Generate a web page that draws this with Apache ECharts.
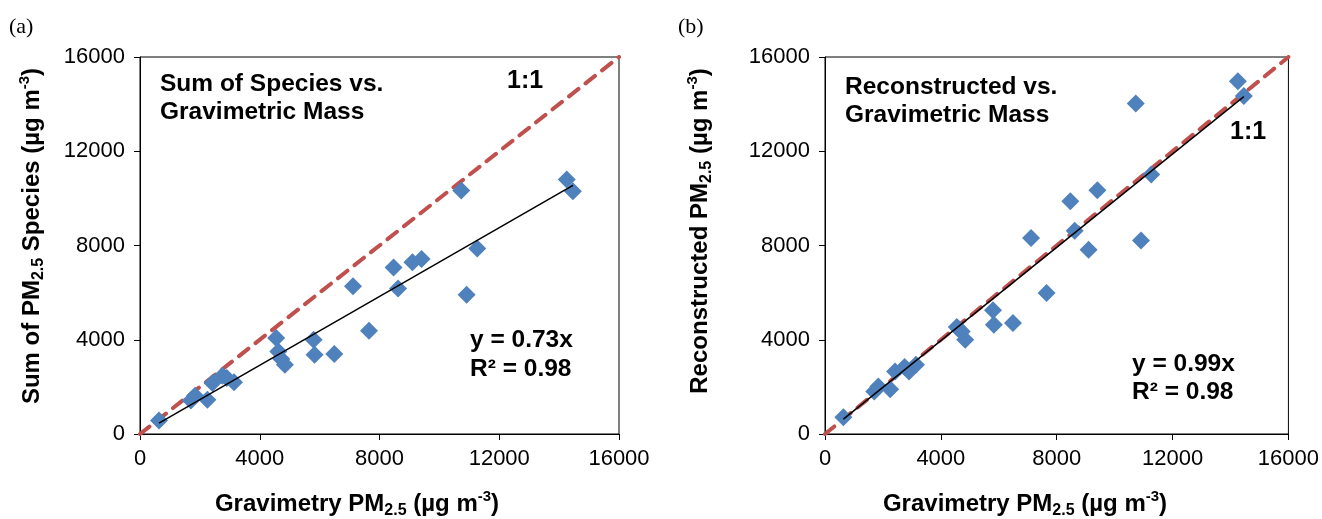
<!DOCTYPE html>
<html>
<head>
<meta charset="utf-8">
<title>PM2.5 mass closure</title>
<script src="https://cdn.jsdelivr.net/npm/echarts@6/dist/echarts.min.js"></script>
<style>
  html, body { margin: 0; padding: 0; background: #fff; }
  #chart { width: 1322px; height: 519px; }
</style>
</head>
<body>
<div id="chart"></div>
<script>
// Gravimetric PM2.5 mass of each filter sample (µg m-3)
const gravimetric = [635, 1700, 1840, 2250, 2420, 2750, 2900, 3140, 4550, 4620, 4720, 4840,
  5800, 5830, 6490, 7115, 7650, 8470, 8620, 9100, 9405, 10730, 10910, 11265, 14255, 14460];
// Sum of the measured PM2.5 species for the same samples
const sumSpecies = [575, 1420, 1620, 1450, 2160, 2470, 2380, 2200, 4070, 3500, 3180, 2940,
  4000, 3360, 3400, 6270, 4380, 7070, 6170, 7290, 7430, 10330, 5910, 7870, 10800, 10300];
// Reconstructed PM2.5 mass for the same samples
const reconstructed = [715, 1805, 2020, 1900, 2650, 2840, 2655, 2940, 4540, 4450, 4354, 4000,
  5250, 4640, 4710, 8320, 5980, 9880, 8630, 7820, 10340, 14030, 8210, 11010, 14970, 14340];

// Zero-intercept regression fits
const slopeA = 0.73, r2A = 0.98;
const slopeB = 0.99, r2B = 0.98;

// Shared axis scale
const axisMin = 0, axisMax = 16000, axisStep = 4000;

const BLUE = '#4F81BD';
const RED = '#C0504D';
const SANS = '"Liberation Sans", Arial, sans-serif';
const SERIF = '"Liberation Serif", "Times New Roman", serif';

const pairs = (xs, ys) => xs.map((x, i) => [x, ys[i]]);
const xLo = Math.min(...gravimetric), xHi = Math.max(...gravimetric);
const fitLine = (k) => [[xLo, k * xLo], [xHi, k * xHi]];

const grids = [
  { left: 140, right: 703, top: 57, bottom: 85 },
  { left: 825, right: 33, top: 57, bottom: 85 }
];

function valueAxis(gridIndex, margin) {
  return {
    type: 'value', gridIndex, min: axisMin, max: axisMax, interval: axisStep,
    axisLine: { show: true, onZero: false, lineStyle: { color: '#000', width: 1 } },
    axisTick: { show: true, inside: false, length: 6, lineStyle: { color: '#000', width: 1 } },
    axisLabel: { color: '#000', fontSize: 22, fontFamily: SANS, margin, formatter: v => String(v) },
    splitLine: { show: false }
  };
}

function panelSeries(idx, ys, slope) {
  return [
    {
      type: 'line', xAxisIndex: idx, yAxisIndex: idx, z: 2,
      data: [[axisMin, axisMin], [axisMax, axisMax]],
      symbol: 'none', silent: true,
      lineStyle: { color: RED, width: 4, type: [12, 9], cap: 'round' }
    },
    {
      type: 'scatter', xAxisIndex: idx, yAxisIndex: idx, z: 3,
      data: pairs(gravimetric, ys),
      symbol: 'diamond', symbolSize: 18,
      itemStyle: { color: BLUE, opacity: 1 }
    },
    {
      type: 'line', xAxisIndex: idx, yAxisIndex: idx, z: 4,
      data: fitLine(slope),
      symbol: 'none', silent: true,
      lineStyle: { color: '#000', width: 1.5 }
    }
  ];
}

// Rich-text styles for subscripts and superscripts in the axis titles
const titleRich = {
  b: { fontSize: 24, fontWeight: 'bold', fontFamily: SANS, color: '#000', lineHeight: 30, verticalAlign: 'middle' },
  sub: { fontSize: 16, fontWeight: 'bold', fontFamily: SANS, color: '#000', lineHeight: 15, verticalAlign: 'bottom' },
  sup: { fontSize: 15, fontWeight: 'bold', fontFamily: SANS, color: '#000', lineHeight: 15, verticalAlign: 'top' }
};

function axisTitle(text, x, y, vertical) {
  return {
    type: 'text', x, y, rotation: vertical ? Math.PI / 2 : 0, silent: true,
    style: { text, rich: titleRich, align: 'center', verticalAlign: 'middle' }
  };
}

function label(text, x, y, size, lineHeight, extra) {
  return {
    type: 'text', x, y, silent: true,
    style: Object.assign({
      text, fill: '#000', font: 'bold ' + size + 'px ' + SANS,
      lineHeight, align: 'left', verticalAlign: 'top'
    }, extra || {})
  };
}

const fitText = (k, r2) => 'y = ' + k.toFixed(2) + 'x\nR\u00B2 = ' + r2.toFixed(2);

const graphics = [
  { type: 'text', x: 9, y: 16, silent: true, style: { text: '(a)', fill: '#000', font: '22px ' + SERIF } },
  { type: 'text', x: 678, y: 16, silent: true, style: { text: '(b)', fill: '#000', font: '22px ' + SERIF } },

  axisTitle('{b|Sum of PM}{sub|2.5}{b| Species (\u00B5g m}{sup|-3}{b|)}', 32, 236, true),
  axisTitle('{b|Reconstructed PM}{sub|2.5}{b| (\u00B5g m}{sup|-3}{b|)}', 700, 231, true),
  axisTitle('{b|Gravimetry PM}{sub|2.5}{b| (\u00B5g m}{sup|-3}{b|)}', 357, 504, false),
  axisTitle('{b|Gravimetry PM}{sub|2.5}{b| (\u00B5g m}{sup|-3}{b|)}', 1025, 504, false),

  label('Sum of Species vs.\nGravimetric Mass', 160, 70, 24.5, 28),
  label('Reconstructed vs.\nGravimetric Mass', 845, 73, 24.5, 28),
  label('1:1', 507, 67, 25, 28),
  label('1:1', 1230, 118, 25, 28),
  label(fitText(slopeA, r2A), 470, 326, 24.5, 29),
  label(fitText(slopeB, r2B), 1132, 350, 24.5, 28)
];

const chart = echarts.init(document.getElementById('chart'), null, { renderer: 'canvas' });
chart.setOption({
  animation: false,
  backgroundColor: '#fff',
  grid: grids.map(g => Object.assign({ show: true, borderColor: '#000', borderWidth: 1, backgroundColor: 'transparent' }, g)),
  xAxis: [valueAxis(0, 14), valueAxis(1, 14)],
  yAxis: [valueAxis(0, 15), valueAxis(1, 15)],
  series: [].concat(panelSeries(0, sumSpecies, slopeA), panelSeries(1, reconstructed, slopeB)),
  graphic: graphics
});
</script>
</body>
</html>
